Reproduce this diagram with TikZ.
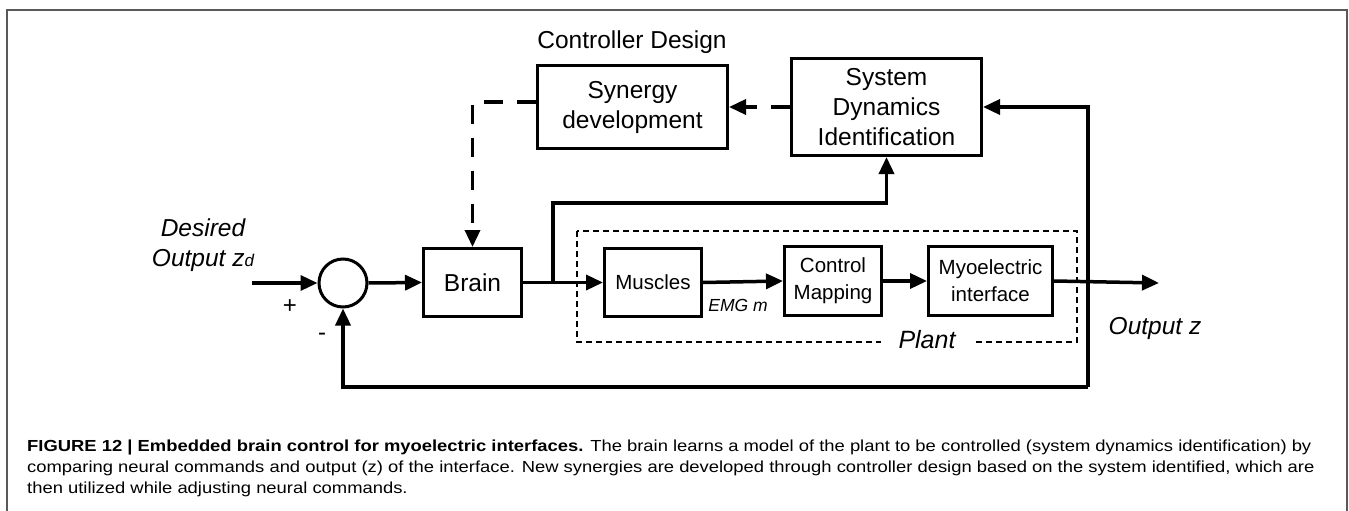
\documentclass[tikz,border=0pt]{standalone}
\usepackage{fontspec}
\setmainfont{Liberation Sans}
\usepackage{tikz}
\usetikzlibrary{shapes.geometric, arrows.meta}
\tikzstyle{arrow} = [line width=3.5pt,-{Triangle[length=17pt,width=15pt]}]
\tikzstyle{dasharrow} = [arrow, dash pattern=on 19pt off 14pt]
\tikzstyle{bigblock} = [draw, line width=3pt, align=center, font=\fontsize{24.5}{30}\selectfont]
\tikzstyle{smallblock} = [draw, line width=3pt, align=center, font=\fontsize{20.5}{27}\selectfont]
\tikzstyle{sigtext} = [align=center, font=\fontsize{24.5}{30}\selectfont\itshape]

\begin{document}
\begin{tikzpicture}[x=1pt, y=-1pt]
    \useasboundingbox (0, 0) rectangle (1349, 511);
    \draw [line width = 1.2, black!65] (7, 511) -- (7, 10) -- (1347, 10) -- (1347, 511);

    \node (ctrl) at (632, 42) [font=\fontsize{24.5}{30}\selectfont] {Controller Design};
    \node [bigblock, minimum width = 190, minimum height = 83] (syn) at (632.5, 107) {Synergy\\development};
    \node [bigblock, minimum width = 190, minimum height = 97] (sdi) at (886.5, 107) {System\\Dynamics\\Identification};
    \node [bigblock, minimum width = 98, minimum height = 68] (brain) at (472.5, 282.5) {Brain};
    \node [draw, circle, line width = 3pt, minimum size = 48, inner sep = 0] (sum) at (343, 283) {};
    \node [smallblock, minimum width = 97, minimum height = 68] (mus) at (653, 282.5) {Muscles};
    \node [smallblock, minimum width = 97, minimum height = 69] (cmap) at (833, 281) {Control\\Mapping};
    \node [smallblock, minimum width = 124, minimum height = 69] (myo) at (990.5, 281) {Myoelectric\\interface};

    % plant
    \draw [dashed, line width = 1.2, dash pattern = on 6pt off 4pt] (577, 231) rectangle (1077, 342);
    \node [sigtext, fill = white, inner xsep = 18, inner ysep = 1, font=\fontsize{25}{30}\selectfont\itshape] (plant) at (927, 340) {Plant};

    % labels
    \node [sigtext] (zd) at (203, 245) {Desired\\Output z{\fontsize{17}{17}\selectfont d}};
    \node (plus) at (290, 307) [font=\fontsize{24}{24}\selectfont] {+};
    \node (minus) at (322, 337) [font=\fontsize{24}{24}\selectfont] {-};
    \node (emg) at (738, 305) [font=\fontsize{17.5}{20}\selectfont\itshape] {EMG m};
    \node [sigtext] (z) at (1155, 328) {Output z};

    \coordinate (in) at (252, 283);
    \coordinate (br) at (553, 283);
    \coordinate (out) at (1159, 283);
    \coordinate (fb) at (1088, 387);

    \draw [arrow] (in) -- (sum.west);
    \draw [arrow] (sum.east) -- (brain.west);
    \draw [arrow] (brain.east) -- (mus.west);
    \draw [arrow] (br) -- ++(0, -80) -| (sdi.south);
    \draw [arrow] (mus.east) -- (cmap.west);
    \draw [arrow] (cmap.east) -- (myo.west);
    \draw [arrow] (myo.east) -- (out);
    \draw [arrow] (fb) -| (sum.south);
    \draw [arrow] (fb) |- (sdi.east);
    \draw [dasharrow] (sdi.west) -- (syn.east);
    \draw [dasharrow] ([yshift = 5pt]syn.west) -| (brain.north);

    % caption
    \node [anchor = north west, inner sep = 0, font=\fontsize{16}{21}\selectfont] (cap) at (27, 437)
        {\scalebox{1.15}[1]{\begin{tabular}{@{}l@{}}
        \textbf{FIGURE 12 | Embedded brain control for myoelectric interfaces.} The brain learns a model of the plant to be controlled (system dynamics identification) by\\
        comparing neural commands and output (z) of the interface. New synergies are developed through controller design based on the system identified, which are\\
        then utilized while adjusting neural commands.
        \end{tabular}}};
\end{tikzpicture}
\end{document}
